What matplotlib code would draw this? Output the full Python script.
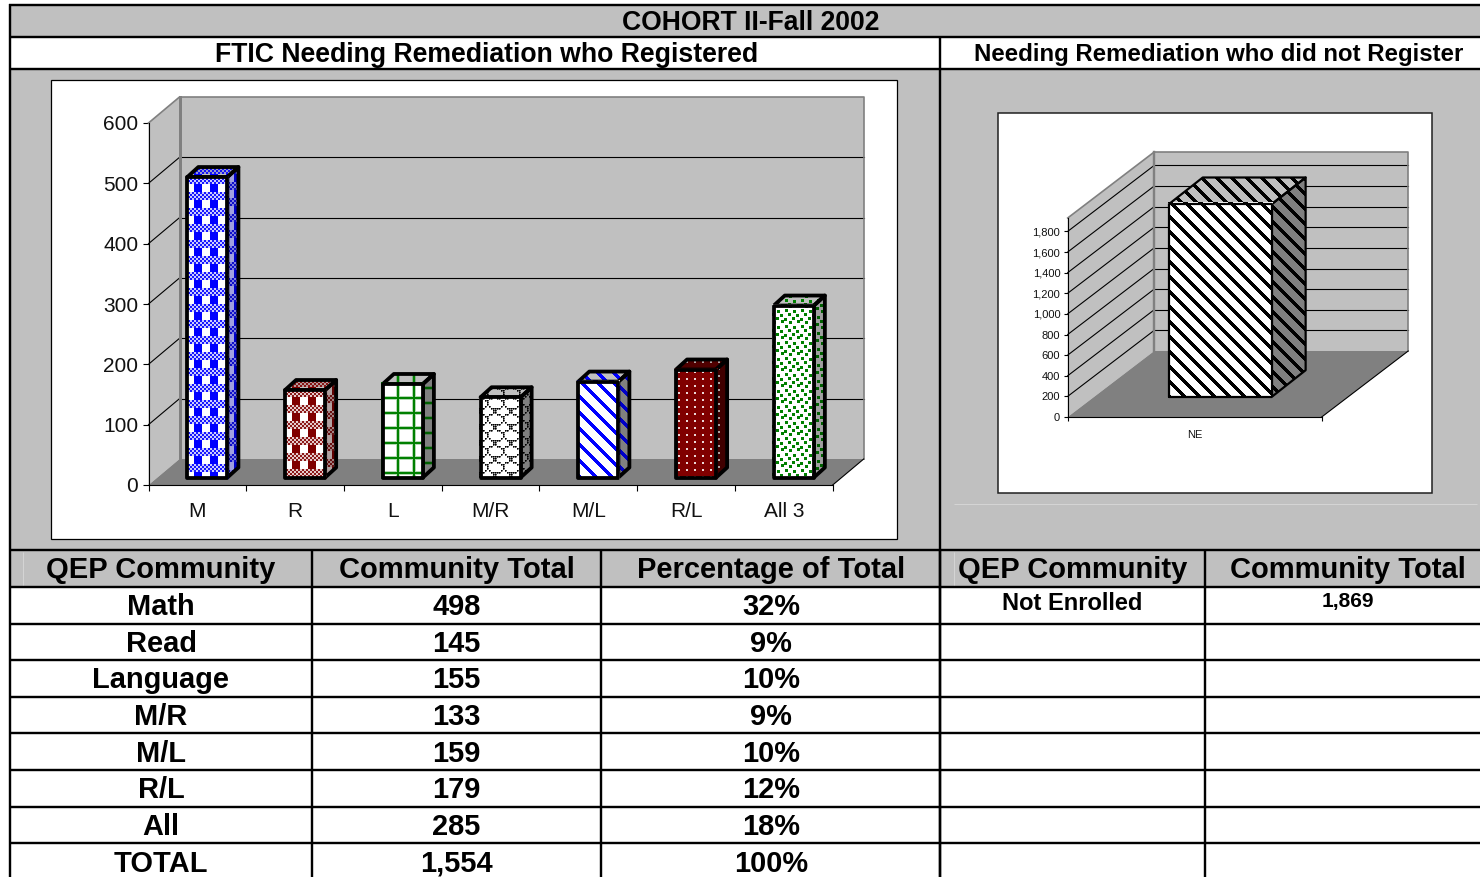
import numpy as np
import matplotlib
matplotlib.use("Agg")
import matplotlib.pyplot as plt
from matplotlib.patches import Polygon, Rectangle
from matplotlib.transforms import Affine2D, IdentityTransform

plt.rcParams['font.family'] = ['Liberation Sans', 'DejaVu Sans']

# ---------- data ----------
title = "COHORT II-Fall 2002"
left_heading = "FTIC Needing Remediation who Registered"
right_heading = "Needing Remediation who did not Register"
bar_labels = ["M", "R", "L", "M/R", "M/L", "R/L", "All 3"]
bar_values = [498, 145, 155, 133, 159, 179, 285]
left_yticks = [0, 100, 200, 300, 400, 500, 600]
ne_label = ["NE"]
ne_value = [1869]
right_yticks = [0, 200, 400, 600, 800, 1000, 1200, 1400, 1600, 1800]
left_columns = ["QEP Community", "Community Total", "Percentage of Total"]
right_columns = ["QEP Community", "Community Total"]
community_names = ["Math", "Read", "Language", "M/R", "M/L", "R/L", "All", "TOTAL"]
community_totals = ["498", "145", "155", "133", "159", "179", "285", "1,554"]
community_pcts = ["32%", "9%", "10%", "9%", "10%", "12%", "18%", "100%"]
not_enrolled_name = "Not Enrolled"
not_enrolled_total = "1,869"

# ---------- layout ----------
W, H = 1480, 877
GRAY = '#C0C0C0'
FLOOR = '#808080'
fig = plt.figure(figsize=(W / 100, H / 100), dpi=100, facecolor='white')
bg = fig.add_axes([0, 0, 1, 1])
bg.set_xlim(0, W)
bg.set_ylim(H, 0)
bg.axis('off')

col_x = [10, 312, 601, 940, 1205]
row_y = [587, 623.5, 660, 696.5, 733, 769.5, 806.5, 843]
centers_y = [607, 644, 680, 717, 754, 790, 827, 864]


def rect(x0, y0, x1, y1, fc, ec='none', lw=0, z=1):
    bg.add_patch(Rectangle((x0, y0), x1 - x0, y1 - y0, fc=fc, ec=ec, lw=lw, zorder=z))


def line(xs, ys, color='black', px=2.4, z=3):
    bg.plot(xs, ys, color=color, lw=px * 0.72, solid_capstyle='butt', zorder=z)


rect(10, 5, W, 37, GRAY)
rect(10, 69, W, 587, GRAY)
rect(51, 80, 897, 538.5, 'white', 'black', 0.9, 2)
rect(997.5, 113, 1431.5, 492.8, 'white', '#202020', 1.1, 2)
line([954, 1477], [503.5, 503.5], '#D4D4D4', 1)
line([23, 23], [552, 586], '#D4D4D4', 1)
line([954, 954], [552, 586], '#D4D4D4', 1)

for y in [5, 37, 69, 550] + row_y:
    line([9, W], [y, y])
line([10, 10], [4, H])
line([940, 940], [37, 550])
for x in col_x[1:]:
    line([x, x], [550, H])
line([940, 940], [550, H])

BOLD = dict(family=['Liberation Sans', 'DejaVu Sans'], fontweight='bold', ha='center',
            va='center', color='black', zorder=5)
bg.text(751, 23, title, fontsize=19.1, **BOLD)
bg.text(486.5, 55, left_heading, fontsize=19.2, **BOLD)
bg.text(1219, 54, right_heading, fontsize=17.3, **BOLD)
mid_left = [161, 456.5, 771]
mid_right = [1072.5, 1348]
for xc, s in zip(mid_left, left_columns):
    bg.text(xc, 570.5, s, fontsize=21.0, **BOLD)
for xc, s in zip(mid_right, right_columns):
    bg.text(xc, 570.5, s, fontsize=21.0, **BOLD)
for yc, a, b, c in zip(centers_y, community_names, community_totals, community_pcts):
    bg.text(mid_left[0], yc, a, fontsize=20.9, **BOLD)
    bg.text(mid_left[1], yc, b, fontsize=20.9, **BOLD)
    bg.text(mid_left[2], yc, c, fontsize=20.9, **BOLD)
bg.text(mid_right[0], 604, not_enrolled_name, fontsize=17, **BOLD)
bg.text(mid_right[1], 602, not_enrolled_total, fontsize=15, **BOLD)


# ---------- raster fill tiles ----------
def rgb(c):
    return np.array(matplotlib.colors.to_rgb(c))


def gingham():
    m = np.zeros((16, 16))
    for y in range(16):
        for x in range(16):
            if y < 8:
                dot = (x % 4 < 2 and y % 4 < 2) or ((x + 2) % 4 < 2 and (y + 2) % 4 < 2)
                m[y, x] = 0.2 if dot else 0.9
            else:
                m[y, x] = 1.0 if x >= 8 else 0.0
    return m


def grid_tile():
    m = np.zeros((15, 16))
    m[:, [15, 2]] = 0.3
    m[[14, 2], :] = 0.3
    m[:, 0:2] = 1.0
    m[0:2, :] = 1.0
    return m


def shingle():
    rows = ["X......X", ".XX..XX.", "...XX...", "....X...",
            "....X...", "...X.X..", "XXX...XX", "X......X"]
    b = np.array([[c == 'X' for c in r] for r in rows], dtype=float)
    return np.kron(b, np.array([[1, 0.7], [0.7, 0.3]]))


def stripes(p, w):
    return np.array([[1.0 if (x - y) % p < w else 0.0 for x in range(p)] for y in range(p)])


def dots():
    m = np.zeros((7, 8))
    m[3:5, 3:5] = 0.85
    return m


def confetti():
    m = np.zeros((16, 16))
    for (x, y) in [(1, 1), (9, 0), (5, 6), (13, 5), (0, 9), (8, 10), (4, 13), (12, 14)]:
        for dy in range(3):
            for dx in range(3):
                m[(y + dy) % 16, (x + dx) % 16] = 1.0
    return m


def texture(ax, tile, ink, paper, patch, pts):
    px = bg.transData.inverted().transform(pts)
    x0, x1 = int(np.floor(px[:, 0].min())) - 1, int(np.ceil(px[:, 0].max())) + 1
    y0, y1 = int(np.floor(px[:, 1].min())) - 1, int(np.ceil(px[:, 1].max())) + 1
    ny, nx = y1 - y0, x1 - x0
    m = np.tile(tile, (ny // tile.shape[0] + 1, nx // tile.shape[1] + 1))[:ny, :nx]
    img = rgb(paper)[None, None, :] * (1 - m[..., None]) + rgb(ink)[None, None, :] * m[..., None]
    im = ax.imshow(img, extent=(x0, x1, y1, y0), origin='upper', aspect='auto',
                   interpolation='nearest', transform=bg.transData, zorder=patch.get_zorder())
    im.set_clip_path(patch)
    im.set_clip_box(fig.bbox)


def shifted(ax, dx, dy):
    return ax.transData + Affine2D().translate(dx, dy)


def chart(box, xmax, ymax, yticks, fmt, wall, base, depth, labels, values, bw, styles, lw_px,
          font, pad, wall_lw, tick_px, ypad):
    x0, x1, ytop, ybot = box
    ax = fig.add_axes([x0 / W, 1 - ybot / H, (x1 - x0) / W, (ybot - ytop) / H])
    ax.set_xlim(0, xmax)
    ax.set_ylim(0, ymax)
    ax.patch.set_visible(False)
    for s in ('top', 'right'):
        ax.spines[s].set_visible(False)
    for s in ('left', 'bottom'):
        ax.spines[s].set_linewidth(0.8)
        ax.spines[s].set_zorder(9)
    ax.set_yticks(yticks)
    ax.set_yticklabels([fmt.format(v) for v in yticks])
    ax.set_xticks(np.arange(0, xmax + 1))
    ax.set_xticklabels([])
    ax.set_xticks(np.arange(len(labels)) + 0.5, labels=labels, minor=True)
    ax.tick_params(axis='both', which='major', length=tick_px * 0.72, width=0.8, color='black',
                   labelsize=font, labelcolor='#111111')
    ax.tick_params(axis='y', which='major', pad=ypad)
    ax.tick_params(axis='x', which='minor', length=0, labelsize=font, labelcolor='#111111', pad=pad)

    back = shifted(ax, *wall)
    d = ax.transData
    poly = lambda pts, **k: ax.add_patch(Polygon(pts, transform=IdentityTransform(), clip_on=False, **k))
    # back and side walls, floor
    poly(back.transform([(0, 0), (xmax, 0), (xmax, ymax), (0, ymax)]), fc=GRAY, ec='none', zorder=1)
    poly(np.vstack([d.transform([(0, 0), (0, ymax)]), back.transform([(0, ymax), (0, 0)])]),
         fc=GRAY, ec='none', zorder=1)
    poly(np.vstack([d.transform([(0, 0), (xmax, 0)]), back.transform([(xmax, 0), (0, 0)])]),
         fc=FLOOR, ec='none', zorder=2)
    for v in yticks[1:]:
        if v >= ymax:
            continue
        ax.plot(*np.array(back.transform([(0, v), (xmax, v)])).T, color='black', lw=0.8,
                transform=IdentityTransform(), zorder=3, clip_on=False)
        ax.plot(*np.vstack([d.transform([(0, v)]), back.transform([(0, v)])]).T, color='black',
                lw=0.8, transform=IdentityTransform(), zorder=3, clip_on=False)
    # wall frame: heavier back-left edge, thin top, right and diagonal edges
    iden = IdentityTransform()
    ax.plot(*back.transform([(0, 0), (0, ymax)]).T, color=FLOOR, lw=wall_lw * 0.72,
            transform=iden, zorder=3.5, clip_on=False)
    ax.plot(*back.transform([(0, ymax), (xmax, ymax), (xmax, 0)]).T, color=FLOOR, lw=1.2,
            transform=iden, zorder=3.5, clip_on=False)
    ax.plot(*np.vstack([d.transform([(0, ymax)]), back.transform([(0, ymax)])]).T, color=FLOOR,
            lw=1.2, transform=iden, zorder=3.5, clip_on=False)
    ax.plot(*np.vstack([d.transform([(xmax, 0)]), back.transform([(xmax, 0)])]).T, color='black',
            lw=0.8, transform=iden, zorder=3.5, clip_on=False)

    # bars
    centers = np.arange(len(values)) + 0.5
    front = shifted(ax, *base)
    rear = shifted(ax, base[0] + depth[0], base[1] + depth[1])
    lw = lw_px * 0.72
    line_kw = dict(ec='black', lw=lw, joinstyle='round')
    for i, (c, v, st) in enumerate(zip(centers, values, styles)):
        z = 5 + i * 0.1
        l, r = c - bw / 2, c + bw / 2
        tile, ink, paper, s_ink, s_paper, t_ink, t_paper = st
        side_pts = np.vstack([front.transform([(r, 0), (r, v)]), rear.transform([(r, v), (r, 0)])])
        top_pts = np.vstack([front.transform([(l, v), (r, v)]), rear.transform([(r, v), (l, v)])])
        side = poly(side_pts, fc='none', ec='none', zorder=z)
        top = poly(top_pts, fc='none', ec='none', zorder=z)
        texture(ax, tile, s_ink, s_paper, side, side_pts)
        texture(ax, tile, t_ink, t_paper, top, top_pts)
        poly(side_pts, fc='none', zorder=z + 0.02, **line_kw)
        poly(top_pts, fc='none', zorder=z + 0.02, **line_kw)
        bars = ax.bar([c], [v], width=bw, color='white', transform=front, zorder=z + 0.03,
                      clip_on=False, linewidth=0)
        face = bars[0]
        texture(ax, tile, ink, paper, face, front.transform([(l, 0), (r, v)]))
        face_line = Rectangle((l, 0), bw, v, transform=front, fc='none', zorder=z + 0.05,
                              clip_on=False, **line_kw)
        ax.add_patch(face_line)
    ax.set_xlim(0, xmax)
    ax.set_ylim(0, ymax)
    return ax


BLUE, RED, GREEN = '#0000FF', '#800000', '#008000'
left_styles = [
    (gingham(), BLUE, 'white', '#0000C8', '#A0A0E0', BLUE, GRAY),
    (gingham(), RED, 'white', '#600000', '#B0A0A0', RED, GRAY),
    (grid_tile(), GREEN, 'white', '#006000', FLOOR, GREEN, GRAY),
    (shingle(), '#000000', 'white', '#000000', FLOOR, '#000000', GRAY),
    (stripes(16, 5), BLUE, 'white', '#0000C8', FLOOR, BLUE, GRAY),
    (dots(), 'white', RED, GRAY, '#400000', GRAY, '#500000'),
    (confetti(), GREEN, 'white', '#006000', '#A0A0A0', GREEN, GRAY),
]
chart((148.5, 832.7, 123, 485), 7, 600, left_yticks, '{:d}',
      (31, 26), (10, 7.5), (11, 10), bar_labels, bar_values, 0.41, left_styles, 3.8,
      15, 12, 3.0, 6, 3.0)

right_styles = [(stripes(15, 5), '#000000', 'white', '#000000', FLOOR, '#000000', GRAY)]
chart((1067.7, 1321.7, 218, 417), 1, 1930, right_yticks, '{:,d}',
      (86.5, 66), (25.8, 20.3), (33.7, 26.5), ne_label, ne_value, 0.405, right_styles, 2.2,
      8, 9, 2.4, 4, 2.5)

fig.savefig('out.png', dpi=100, facecolor='white')
